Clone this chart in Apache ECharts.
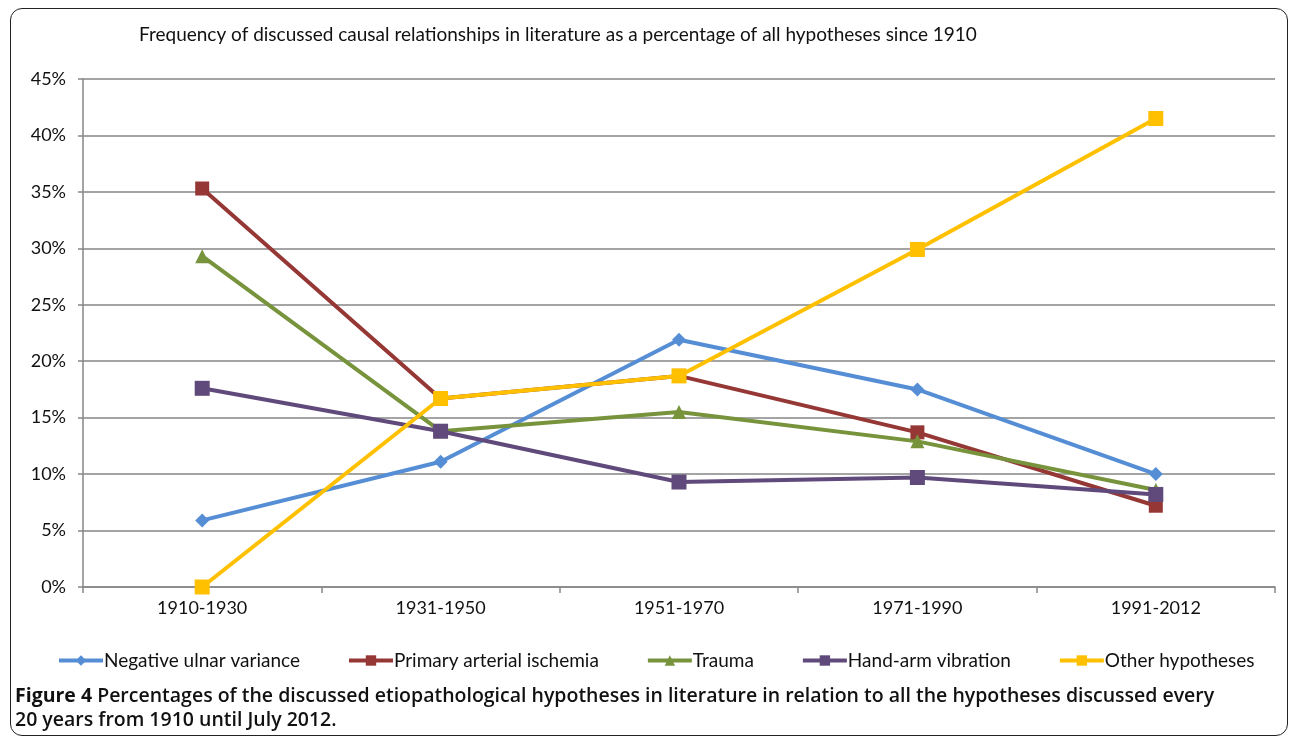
<!DOCTYPE html>
<html>
<head>
<meta charset="utf-8">
<script src="https://cdn.jsdelivr.net/npm/echarts@6/dist/echarts.min.js"></script>
<style>
  html, body { margin: 0; padding: 0; background: #fff; }
  #frame { position: absolute; left: 10px; top: 8px; width: 1276px; height: 726px;
           border: 1.5px solid #222; border-radius: 12px; }
  #chart { position: absolute; left: 0; top: 0; width: 1290px; height: 739px; }
</style>
</head>
<body>
<div id="frame"></div>
<div id="chart"></div>
<script>
// categories on the x axis
const periods = ['1910-1930', '1931-1950', '1951-1970', '1971-1990', '1991-2012'];
// percentages
const ulnar = [5.9, 11.1, 21.9, 17.5, 10.0];
const ischemia = [35.3, 16.7, 18.7, 13.7, 7.2];
const trauma = [29.3, 13.8, 15.5, 12.9, 8.6];
const vibration = [17.6, 13.8, 9.3, 9.7, 8.2];
const other = [0, 16.7, 18.7, 29.9, 41.5];
const seriesNames = ['Negative ulnar variance', 'Primary arterial ischemia', 'Trauma', 'Hand-arm vibration', 'Other hypotheses'];

const font = 'Lato, "Open Sans", sans-serif';
const capFont = '"Open Sans", Lato, sans-serif';

function mkLine(name, data, color, symbol, size) {
  return {
    name: name,
    type: 'line',
    data: data,
    symbol: symbol,
    symbolSize: size,
    lineStyle: { width: 4, color: color },
    itemStyle: { color: color },
    z: 3
  };
}

const chart = echarts.init(document.getElementById('chart'));
chart.setOption({
  animation: false,
  title: {
    text: 'Frequency of discussed causal relationships in literature as a percentage of all hypotheses since 1910',
    left: 134, top: 20,
    textStyle: { fontFamily: font, fontSize: 19, fontWeight: 'normal', color: '#111' }
  },
  grid: { left: 83, right: 15, top: 79, bottom: 152 },
  legend: {
    top: 646, left: 52,
    itemWidth: 44, itemHeight: 13, itemGap: 47,
    lineStyle: { width: 4 },
    textStyle: { fontFamily: font, fontSize: 19, color: '#111', padding: [0, 0, 0, -4] }
  },
  xAxis: {
    type: 'category',
    data: periods,
    boundaryGap: true,
    axisLine: { lineStyle: { color: '#868686', width: 1.5 } },
    axisTick: { show: true, length: 6, lineStyle: { color: '#868686', width: 1.5 } },
    axisLabel: { fontFamily: font, fontSize: 18, color: '#111', margin: 12 }
  },
  yAxis: {
    type: 'value',
    min: 0, max: 45, interval: 5,
    axisLine: { show: true, lineStyle: { color: '#868686', width: 1.5 } },
    axisTick: { show: true, length: 5, lineStyle: { color: '#868686', width: 1.5 } },
    axisLabel: { fontFamily: font, fontSize: 18, color: '#111', formatter: '{value}%', margin: 17 },
    splitLine: { lineStyle: { color: '#868686', width: 1.5 } }
  },
  series: [
    mkLine(seriesNames[0], ulnar, '#558ED5', 'diamond', 14),
    mkLine(seriesNames[1], ischemia, '#953735', 'rect', 14),
    mkLine(seriesNames[2], trauma, '#77933C', 'triangle', 14),
    mkLine(seriesNames[3], vibration, '#604A7B', 'rect', 15),
    mkLine(seriesNames[4], other, '#FFC000', 'rect', 15)
  ],
  graphic: [
    {
      type: 'text', left: 15, top: 684,
      style: {
        text: '{b|Figure 4} Percentages of the discussed etiopathological hypotheses in literature in relation to all the hypotheses discussed every\n20 years from 1910 until July 2012.',
        font: '600 19.5px ' + capFont,
        lineHeight: 24,
        fill: '#111',
        rich: { b: { font: 'bold 19.5px ' + capFont, fill: '#111', lineHeight: 24 } }
      }
    }
  ]
});
</script>
</body>
</html>
